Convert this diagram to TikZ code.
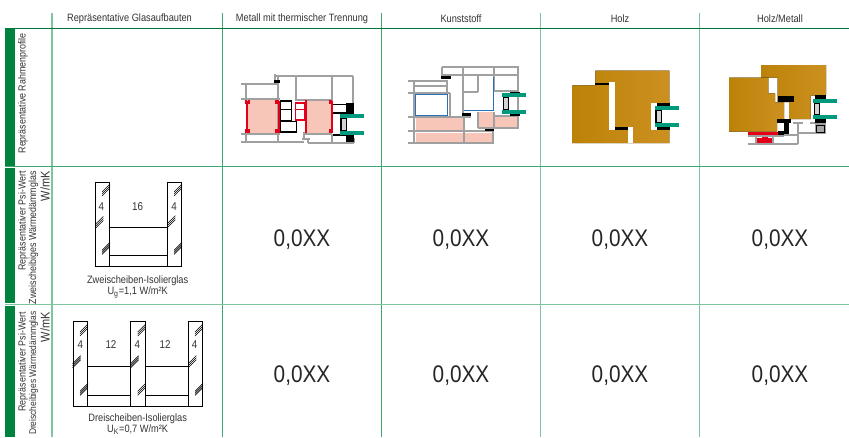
\documentclass[tikz,border=0pt]{standalone}
\usepackage{fontspec}
\setmainfont{Liberation Sans}[FakeStretch=0.866]
\definecolor{txt}{HTML}{333333}
\definecolor{gdark}{HTML}{00833F}
\definecolor{gmid}{HTML}{3FA872}
\definecolor{glight}{HTML}{7FC4A0}
\definecolor{gr}{HTML}{A0A0A0}
\definecolor{pinkf}{HTML}{F8C6B8}
\definecolor{redf}{HTML}{E2001A}
\definecolor{teal2}{HTML}{009B7D}
\definecolor{blue2}{HTML}{2A70B8}
\definecolor{woodA}{HTML}{BC8208}
\definecolor{woodB}{HTML}{CC9020}
\tikzset{
  lab/.style={text=txt,font=\fontsize{8}{9}\selectfont,inner sep=0pt},
  dig/.style={lab,font=\fontsize{8.5}{9}\selectfont},
  big/.style={text=black!85,font=\fontsize{18}{20}\selectfont,inner sep=0pt},
  vlab/.style={lab,rotate=90,anchor=east,font=\fontsize{7.7}{9}\selectfont},
  gl/.style={gr,line width=1.5pt},
  tealb/.style={fill=teal2,draw=none},
  wood/.style={left color=woodA,right color=woodB,draw=none},
  whitef/.style={fill=white,draw=none},
  gls/.style={black,line width=0.7pt},
  pics/hatchm/.style={code={
    \foreach \d in {-6,0,6}{\draw[black,line width=0.45pt] (-12,12+\d) -- (12,-12+\d);}
  }}
}
\newcommand{\gasket}[4]{%
  \fill[black] (#1,#2) rectangle (#3,#4);
  \fill[gray!35] (#1+5,#2+3) rectangle (#3-3,#4-3);
}
\begin{document}
\begin{tikzpicture}[x=0.75pt,y=-0.75pt]
\useasboundingbox (0,0) rectangle (849,437);
% grid
\fill[gdark] (5,28) rectangle (15,165.5);
\fill[gdark] (5,167.5) rectangle (15,303);
\fill[gdark] (5,305.5) rectangle (15,437);
\draw[glight,line width=0.9pt] (52,13) -- (52,437);
\draw[gmid,line width=0.7pt] (222,13) -- (222,437);
\draw[gmid,line width=0.7pt] (381.5,13) -- (381.5,437);
\draw[glight,line width=0.8pt] (540.7,13) -- (540.7,437);
\draw[glight,line width=0.8pt] (699.5,13) -- (699.5,437);
\draw[gdark!90!black,line width=0.7pt] (5,28) -- (849,28);
\draw[gmid,line width=0.8pt] (5,166.5) -- (849,166.5);
\draw[glight,line width=0.8pt] (5,304.5) -- (849,304.5);
% headers
\node[lab] (h1) at (129.5,18.5) {Repräsentative Glasaufbauten};
\node[lab] (h2) at (302,18.5) {Metall mit thermischer Trennung};
\node[lab] (h3) at (461,18.5) {Kunststoff};
\node[lab] (h4) at (620,18.5) {Holz};
\node[lab] (h5) at (780,18.5) {Holz/Metall};
% side labels
\node[vlab] (s1) at (23,33) {Repräsentative Rahmenprofile};
\node[vlab] (s2a) at (23,171) {Repräsentativer Psi-Wert};
\node[vlab] (s2b) at (33.5,171) {Zweischeibiges Wärmedämmglas};
\node[vlab,font=\fontsize{9.5}{10}\selectfont] (s2c) at (45,171) {W/mK};
\node[vlab] (s3a) at (23,312) {Repräsentativer Psi-Wert};
\node[vlab,font=\fontsize{7.3}{9}\selectfont] (s3b) at (33.5,311) {Dreischeibiges Wärmedämmglas};
\node[vlab,font=\fontsize{9.5}{10}\selectfont] (s3c) at (45,312) {W/mK};
% values
\foreach \n/\x in {a/302,b/461,c/620,d/780}{
  \node[big] (v2\n) at (\x,239.5) {0,0XX};
  \node[big] (v3\n) at (\x,375.5) {0,0XX};
}
% two-pane glass
\begin{scope}[shift={(0,165)},x=0.25pt,y=-0.25pt]
\draw[gls] (286,52) rectangle (329,305);
\draw[gls] (501,52) rectangle (545,305);
\draw[gls] (329,187) -- (501,187);
\draw[gls] (329,272) -- (501,272);
\draw[gls] (329,305) -- (501,305);
\foreach \p in {(318,75),(298,172),(318,250),(534,75),(514,170),(534,250)}{\pic at \p {hatchm};}
\node[dig] (g2a) at (304,125) {4};
\node[dig] (g2b) at (413,125) {16};
\node[dig] (g2c) at (522,125) {4};
\node[lab] (g2d) at (413,347) {Zweischeiben-Isolierglas};
\node[lab] (g2e) at (413,382) {U\textsubscript{g}=1,1 W/m²K};
\end{scope}
% three-pane glass
\begin{scope}[shift={(0,300)},x=0.25pt,y=-0.25pt]
\draw[gls] (220,64) rectangle (263,318);
\draw[gls] (392,64) rectangle (436,318);
\draw[gls] (565,64) rectangle (608,318);
\foreach \a/\b in {263/392,436/565}{
  \draw[gls] (\a,200) -- (\b,200);
  \draw[gls] (\a,285) -- (\b,285);
  \draw[gls] (\a,318) -- (\b,318);
}
\foreach \p in {(252,90),(230,185),(252,268),(425,90),(404,185),(425,268),(597,90),(577,185),(597,268)}{\pic at \p {hatchm};}
\foreach \n/\x/\t in {a/241/4,b/333/12,c/412/4,d/495/12,e/584/4}{
  \node[dig] (g3\n) at (\x,135) {\t};
}
\node[lab] (g3f) at (413,355) {Dreischeiben-Isolierglas};
\node[lab] (g3g) at (413,389) {U\textsubscript{K}=0,7 W/m²K};
\end{scope}
% metal
\begin{scope}[shift={(225,60)},x=0.25pt,y=-0.25pt]
\fill[pinkf] (65,120) rectangle (160,220);
\fill[pinkf] (242,120) rectangle (320,218);
\draw[gl] (150,43) -- (150,62);
\draw[gl] (150,47) -- (385,47);
\draw[gl] (160,47) -- (160,250);
\draw[gl] (213,47) -- (213,118);
\draw[gl] (321,47) -- (321,130);
\draw[gl] (385,47) -- (385,130);
\draw[gl] (48,72) -- (160,72);
\draw[gl] (63,72) -- (63,118);
\draw[gl] (48,118) -- (165,118);
\draw[gl] (48,222) -- (165,222);
\draw[gl] (63,222) -- (63,245);
\draw[gl] (48,245) -- (236,245);
\draw[gl] (210,119) -- (322,119);
\draw[gl] (235,221) -- (322,221);
\draw[gl] (238,215) -- (238,238);
\draw[gl] (232,238) -- (255,238);
\draw[gl] (248,238) -- (248,248);
\draw[gl] (248,248) -- (386,248);
\draw[gl] (321,222) -- (321,248);
\draw[gl] (386,235) -- (386,248);
\fill[black] (147,60) rectangle (165,70);
\draw[black,line width=1pt] (167,123) rectangle (199,182);
\draw[black,line width=1pt] (167,148) -- (199,148);
\draw[black,line width=1pt] (167,184) rectangle (215,216);
\draw[redf,line width=1pt] (212,129) rectangle (240,180);
\draw[redf,line width=0.8pt] (212,148) -- (240,148);
\foreach \x in {62,160,239,317}{\fill[redf] (\x,122) rectangle (\x+6,218);}
\foreach \x/\y in {60/120,68/120,60/208,68/208,150/120,156/120,150/208,156/208}{\fill[redf] (\x,\y) rectangle (\x+6,\y+12);}
\foreach \x/\y in {239/120,312/120,239/208,312/208}{\fill[redf] (\x,\y) rectangle (\x+8,\y+12);}
\fill[black] (323,131) rectangle (365,135);
\fill[black] (323,156) rectangle (365,163);
\fill[black] (362,128) rectangle (387,163);
\fill[black] (323,222) rectangle (365,228);
\fill[black] (362,226) rectangle (387,245);
\fill[tealb] (345,162) rectangle (417,174);
\fill[tealb] (345,213) rectangle (417,225);
\gasket{346}{174}{366}{213}
\end{scope}
% plastic
\begin{scope}[shift={(395,60)},x=0.25pt,y=-0.25pt]
\fill[pinkf] (62,175) rectangle (205,211);
\fill[pinkf] (62,218) rectangle (205,245);
\fill[pinkf] (208,218) rectangle (292,245);
\fill[pinkf] (252,157) rectangle (296,201);
\fill[pinkf] (300,170) rectangle (367,201);
\draw[gl] (140,20) -- (372,20);
\draw[gl] (140,20) -- (140,48);
\draw[gl] (140,46) -- (370,46);
\draw[gl] (205,20) -- (205,175);
\draw[gl] (298,20) -- (298,92);
\draw[gl] (370,20) -- (370,205);
\draw[gl] (38,62) -- (158,62);
\draw[gl] (58,62) -- (58,250);
\draw[gl] (155,62) -- (155,98);
\draw[gl] (58,78) -- (155,78);
\draw[gl] (38,98) -- (165,98);
\draw[gl] (165,98) -- (165,172);
\draw[gl] (38,172) -- (228,172);
\draw[gl] (38,214) -- (296,214);
\draw[gl] (38,248) -- (296,248);
\draw[gl] (207,172) -- (207,248);
\draw[gl] (295,207) -- (295,248);
\draw[gl] (205,96) -- (250,96);
\draw[gl] (248,46) -- (248,96);
\draw[gl] (298,92) -- (370,92);
\draw[gl] (248,155) -- (248,205);
\draw[gl] (248,205) -- (372,205);
\draw[gl] (298,155) -- (298,203);
\draw[gl] (298,168) -- (370,168);
\draw[blue2,line width=1pt] (62,103) rectangle (158,166);
\draw[blue2,line width=1pt] (295,50) -- (295,151) -- (208,151);
\fill[black] (138,48) rectangle (168,57);
\fill[black] (200,158) rectangle (228,167);
\fill[black] (270,207) rectangle (297,213);
\fill[black] (345,95) rectangle (375,100);
\fill[black] (345,162) rectangle (375,167);
\fill[tealb] (321,99) rectangle (393,111);
\fill[tealb] (321,150) rectangle (393,162);
\gasket{323}{111}{342}{150}
\end{scope}
% wood
\begin{scope}[shift={(560,60)},x=0.25pt,y=-0.25pt]
\fill[wood] (106,32) -- (328,32) -- (328,249) -- (37,249) -- (37,76) -- (106,76) -- cycle;
\fill[whitef] (147,66) rectangle (165,209);
\fill[whitef] (204,201) rectangle (219,250);
\fill[whitef] (273,129) rectangle (330,209);
\fill[black] (106,68) rectangle (147,76);
\fill[black] (165,201) rectangle (204,209);
\fill[black] (290,129) rectangle (330,138);
\fill[black] (290,201) rectangle (330,209);
\fill[tealb] (285,138) rectangle (357,150);
\fill[tealb] (285,189) rectangle (357,201);
\gasket{286}{150}{306}{189}
\end{scope}
% wood/metal
\begin{scope}[shift={(715,55)},x=0.25pt,y=-0.25pt]
\fill[wood] (138,30) -- (333,30) -- (333,122) -- (287,122) -- (287,192) -- (222,192) -- (222,141) -- (188,141) -- (188,68) -- (138,68) -- cycle;
\fill[wood] (42,68) -- (160,68) -- (160,115) -- (180,115) -- (180,142) -- (207,142) -- (207,192) -- (186,192) -- (186,230) -- (42,230) -- cycle;
\fill[black] (188,123) rectangle (237,141);
\fill[black] (186,192) rectangle (228,204);
\fill[black] (207,204) rectangle (222,241);
\fill[black] (190,228) rectangle (222,241);
\fill[redf] (99,230) rectangle (188,240);
\fill[redf] (140,240) rectangle (158,248);
\fill[redf] (127,248) rectangle (172,264);
\draw[gl] (99,243) -- (207,243);
\draw[gl] (122,243) -- (122,266);
\draw[gl] (175,243) -- (175,266);
\draw[gl] (99,266) -- (250,266);
\draw[gl] (207,241) -- (250,241);
\draw[gl] (250,205) -- (250,268);
\draw[gl] (235,203) -- (263,203);
\draw[gl] (285,203) -- (305,203);
\draw[gl] (250,235) -- (333,235);
\fill[black] (300,120) rectangle (333,133);
\fill[black] (300,192) rectangle (333,206);
\fill[tealb] (294,133) rectangle (366,144);
\fill[tealb] (294,180) rectangle (366,192);
\gasket{296}{144}{315}{180}
\draw[gr,line width=1pt,fill=gray!70] (301,207) rectangle (331,234);
\draw[black,line width=0.6pt] (304,210) rectangle (328,231);
\end{scope}
\end{tikzpicture}
\end{document}
